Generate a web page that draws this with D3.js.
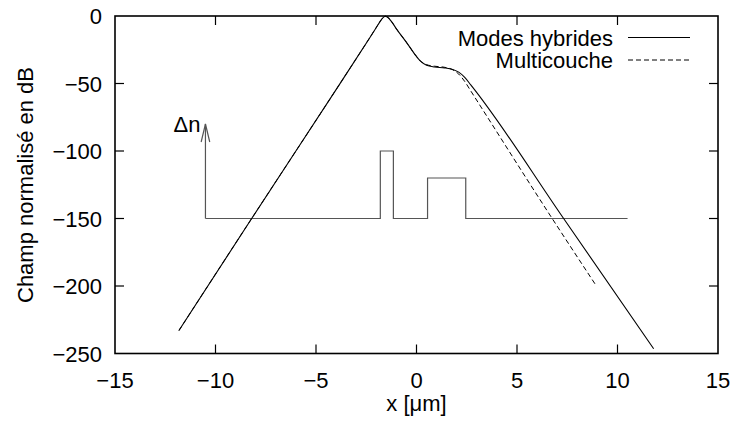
<!DOCTYPE html>
<html>
<head>
<meta charset="utf-8">
<script src="https://cdn.jsdelivr.net/npm/d3@7"></script>
<style>
  html, body { margin: 0; padding: 0; background: #fff; }
  svg { display: block; font-family: "Liberation Sans", Arial, Helvetica, sans-serif; }
</style>
</head>
<body>
<svg id="chart" width="734" height="427"></svg>
<script>
// ---- Data ----
const xTicks = [-15, -10, -5, 0, 5, 10, 15];
const yTicks = [0, -50, -100, -150, -200, -250];

// Modes hybrides (solid)
const hybridX = [-11.82, -8.2, -4.0, -2.3, -2.0, -1.8, -1.65, -1.55, -1.45, -1.25, -1.0, -0.5, -0.1, 0.2, 0.5, 0.9, 1.4, 1.8, 2.1, 2.4, 2.7, 7.32, 11.8];
const hybridY = [-233, -150, -54.5, -15.5, -8.5, -3.8, -1.0, -0.2, -0.8, -4.0, -9.5, -19.5, -28, -33.5, -36.5, -37.8, -38.4, -39.6, -41.6, -45.5, -51, -150, -246.5];

// Multicouche (dashed)
const multiX = [-11.82, -8.2, -4.0, -2.3, -2.0, -1.8, -1.65, -1.55, -1.45, -1.25, -1.0, -0.5, -0.1, 0.2, 0.5, 0.9, 1.4, 1.8, 2.1, 2.4, 2.7, 6.75, 8.95];
const multiY = [-233, -150, -54.5, -15.5, -8.5, -3.8, -1.0, -0.2, -0.8, -4.0, -9.5, -19.5, -28, -33.5, -36.0, -37.2, -38.0, -39.8, -43.0, -48.5, -55.5, -150, -200];

// Index profile Δn (drawn in plot units)
const profileX = [-10.5, 10.5];
const profileBase = -150;
const layerStart = [-1.8, 0.55];
const layerEnd = [-1.15, 2.45];
const layerTop = [-100, -120];
const arrowTop = -80;

const seriesNames = ["Modes hybrides", "Multicouche"];

// ---- Layout ----
const svg = d3.select("#chart");
const margin = { left: 115, right: 16, top: 16, bottom: 73.5 };
const W = 734, H = 427;
const x = d3.scaleLinear().domain([-15, 15]).range([margin.left, W - margin.right]);
const y = d3.scaleLinear().domain([-250, 0]).range([H - margin.bottom, margin.top]);
const fs = 22;

// Index profile path
const prof = [[profileX[0], profileBase]];
for (let i = 0; i < layerStart.length; i++) {
  prof.push([layerStart[i], profileBase], [layerStart[i], layerTop[i]], [layerEnd[i], layerTop[i]], [layerEnd[i], profileBase]);
}
prof.push([profileX[1], profileBase]);
const lineFn = d3.line().x(d => x(d[0])).y(d => y(d[1]));
svg.append("path").attr("d", lineFn(prof)).attr("fill", "none").attr("stroke", "#555").attr("stroke-width", 1.2);

// Arrow
svg.append("path").attr("d", lineFn([[profileX[0], profileBase], [profileX[0], arrowTop]]))
  .attr("fill", "none").attr("stroke", "#555").attr("stroke-width", 1.2);
const ax = x(profileX[0]), ay = y(arrowTop);
svg.append("path").attr("d", `M${ax - 4.3},${ay + 18}L${ax},${ay}L${ax + 4.3},${ay + 18}`)
  .attr("fill", "none").attr("stroke", "#555").attr("stroke-width", 1.2);
svg.append("text").attr("x", ax - 5).attr("y", ay + 8).attr("text-anchor", "end")
  .attr("font-size", fs).text("Δn");

// Curves
const curve = d3.line().x(d => x(d[0])).y(d => y(d[1])).curve(d3.curveMonotoneX);
const hyb = hybridX.map((v, i) => [v, hybridY[i]]);
const mul = multiX.map((v, i) => [v, multiY[i]]);
svg.append("path").attr("d", curve(mul)).attr("fill", "none").attr("stroke", "#000")
  .attr("stroke-width", 1).attr("stroke-dasharray", "5,3");
svg.append("path").attr("d", curve(hyb)).attr("fill", "none").attr("stroke", "#000").attr("stroke-width", 1.1);

// Frame
const x0 = x(-15), x1 = x(15), y0 = y(-250), y1 = y(0);
svg.append("rect").attr("x", x0).attr("y", y1).attr("width", x1 - x0).attr("height", y0 - y1)
  .attr("fill", "none").attr("stroke", "#000").attr("stroke-width", 1.6);

// Ticks (inward, mirrored)
const tl = 9;
xTicks.slice(1, -1).forEach(t => {
  svg.append("line").attr("x1", x(t)).attr("x2", x(t)).attr("y1", y0).attr("y2", y0 - tl).attr("stroke", "#000").attr("stroke-width", 1.2);
  svg.append("line").attr("x1", x(t)).attr("x2", x(t)).attr("y1", y1).attr("y2", y1 + tl).attr("stroke", "#000").attr("stroke-width", 1.2);
});
yTicks.slice(1, -1).forEach(t => {
  svg.append("line").attr("x1", x0).attr("x2", x0 + tl).attr("y1", y(t)).attr("y2", y(t)).attr("stroke", "#000").attr("stroke-width", 1.2);
  svg.append("line").attr("x1", x1).attr("x2", x1 - tl).attr("y1", y(t)).attr("y2", y(t)).attr("stroke", "#000").attr("stroke-width", 1.2);
});

const fmt = v => (v < 0 ? "\u2212" + Math.abs(v) : String(v));
xTicks.forEach(t => {
  svg.append("text").attr("x", x(t)).attr("y", y0 + 34).attr("text-anchor", "middle")
    .attr("font-size", fs).text(fmt(t));
});
yTicks.forEach(t => {
  svg.append("text").attr("x", x0 - 13).attr("y", y(t) + 8).attr("text-anchor", "end")
    .attr("font-size", fs).text(fmt(t));
});

// Axis titles
svg.append("text").attr("x", (x0 + x1) / 2).attr("y", 411).attr("text-anchor", "middle")
  .attr("font-size", fs).text("x [\u03bcm]");
svg.append("text").attr("transform", `translate(33,185) rotate(-90)`).attr("text-anchor", "middle")
  .attr("font-size", fs).text("Champ normalisé en dB");

// Legend
const legY = [37.5, 60];
const dashes = [null, "5,3"];
seriesNames.forEach((n, i) => {
  svg.append("text").attr("x", 613).attr("y", legY[i] + 8).attr("text-anchor", "end")
    .attr("font-size", fs).text(n);
  const l = svg.append("line").attr("x1", 628).attr("x2", 690).attr("y1", legY[i]).attr("y2", legY[i])
    .attr("stroke", "#000").attr("stroke-width", 1);
  if (dashes[i]) l.attr("stroke-dasharray", dashes[i]);
});
</script>
</body>
</html>
